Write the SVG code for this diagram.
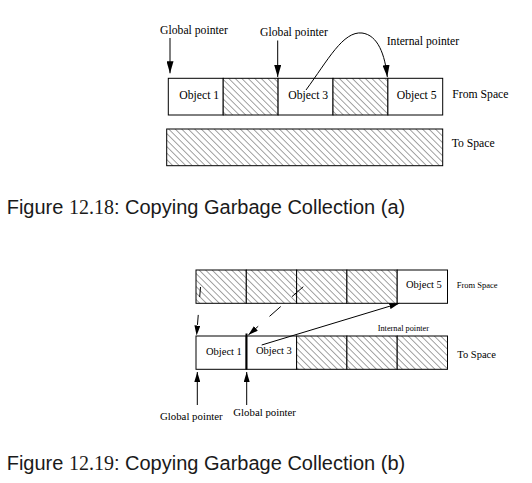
<svg xmlns="http://www.w3.org/2000/svg" width="532" height="483" viewBox="0 0 532 483">
<style>
.bx{fill:#fff;stroke:#000;stroke-width:1}
.ht{fill:url(#hatch);stroke:#000;stroke-width:1}
.t{font-family:"Liberation Serif","Times New Roman",serif;fill:#000}
.ta{font-size:11.7px}
.cap{font-family:"Liberation Sans",Arial,sans-serif;font-size:20px;fill:#1a1a1a}
.num{font-family:"Liberation Serif","Times New Roman",serif}
.ln{stroke:#000;stroke-width:1;fill:none}
</style>
<defs>
<pattern id="hatch" patternUnits="userSpaceOnUse" width="4.6" height="10" patternTransform="rotate(-45)">
<rect width="4.6" height="10" fill="#fff"/>
<line x1="0.3" y1="0" x2="0.3" y2="10" stroke="#3a3a3a" stroke-width="0.6"/>
</pattern>
<marker id="ah" viewBox="0 0 12 7" refX="12" refY="3.5" markerWidth="12" markerHeight="7" markerUnits="userSpaceOnUse" orient="auto">
<path d="M0,0 L12,3.5 L0,7 z" fill="#000"/>
</marker>
<marker id="as" viewBox="0 0 10 6" refX="10" refY="3" markerWidth="10" markerHeight="6" markerUnits="userSpaceOnUse" orient="auto">
<path d="M0,0 L10,3 L0,6 z" fill="#000"/>
</marker>
</defs>

<!-- Figure (a) -->
<g id="a-from-space">
<rect class="bx" x="168.3" y="78.3" width="54.9" height="36.7"/>
<rect class="ht" x="223.2" y="78.3" width="54.9" height="36.7"/>
<rect class="bx" x="278.1" y="78.3" width="54.9" height="36.7"/>
<rect class="ht" x="333" y="78.3" width="54.9" height="36.7"/>
<rect class="bx" x="387.9" y="78.3" width="54.8" height="36.7"/>
<text class="t ta" x="179.3" y="98.5">Object 1</text>
<text class="t ta" x="288.3" y="98.5">Object 3</text>
<text class="t ta" x="396.7" y="98.5">Object 5</text>
<text class="t ta" x="452.3" y="98">From Space</text>
</g>
<g id="a-to-space">
<rect class="ht" x="166.7" y="129" width="276" height="36.7"/>
<text class="t ta" x="451.7" y="147">To Space</text>
</g>
<g id="a-labels">
<text class="t ta" x="160" y="34">Global pointer</text>
<text class="t ta" x="260" y="36">Global pointer</text>
<text class="t ta" x="386.7" y="45">Internal pointer</text>
</g>
<g id="a-connectors">
<line class="ln" x1="170" y1="38" x2="170" y2="73.3" marker-end="url(#ah)"/>
<line class="ln" x1="277.7" y1="40.5" x2="277.7" y2="77" marker-end="url(#ah)"/>
<path class="ln" d="M306,90 C328,60 343,31 362,33 C378,35 385,55 387.3,77" marker-end="url(#ah)"/>
</g>
<text class="cap" x="6.7" y="214.3">Figure <tspan class="num">12.18</tspan>: Copying Garbage Collection (a)</text>

<!-- Figure (b) -->
<g id="b-from-space">
<rect class="ht" x="196" y="270" width="50.3" height="33.3"/>
<rect class="ht" x="246.3" y="270" width="50.3" height="33.3"/>
<rect class="ht" x="296.6" y="270" width="50.3" height="33.3"/>
<rect class="ht" x="346.9" y="270" width="50.3" height="33.3"/>
<rect class="bx" x="397.2" y="270" width="50.3" height="33.3"/>
<text class="t" font-size="10.5" x="406" y="288.3">Object 5</text>
<text class="t" font-size="8.5" x="456.7" y="288">From Space</text>
</g>
<g id="b-to-space">
<rect class="bx" x="196" y="336" width="50.3" height="33.3"/>
<rect class="bx" x="246.3" y="336" width="50.3" height="33.3"/>
<rect class="ht" x="296.6" y="336" width="50.3" height="33.3"/>
<rect class="ht" x="346.9" y="336" width="50.3" height="33.3"/>
<rect class="ht" x="397.2" y="336" width="50.3" height="33.3"/>
<line x1="246.5" y1="333.5" x2="246.5" y2="369.3" stroke="#000" stroke-width="2"/>
<text class="t" font-size="10.5" x="206" y="355">Object 1</text>
<text class="t" font-size="10.5" x="256" y="353.5">Object 3</text>
<text class="t" font-size="10.5" x="457.3" y="357.7">To Space</text>
</g>
<g id="b-labels">
<text class="t" font-size="8.3" x="377.7" y="331">Internal pointer</text>
<text class="t" font-size="10.8" x="160" y="420">Global pointer</text>
<text class="t" font-size="10.8" x="233.3" y="416">Global pointer</text>
</g>
<g id="b-connectors">
<line class="ln" x1="261.7" y1="345" x2="399.3" y2="303.3" marker-end="url(#as)"/>
<line class="ln" x1="303.3" y1="286.7" x2="248.3" y2="335" stroke-dasharray="15 15" marker-end="url(#as)"/>
<line class="ln" x1="200.5" y1="287" x2="196.6" y2="335.5" stroke-dasharray="10 18" marker-end="url(#as)"/>
<line class="ln" x1="197.3" y1="405" x2="197.3" y2="372" marker-end="url(#as)"/>
<line class="ln" x1="246.7" y1="405" x2="246.7" y2="372" marker-end="url(#as)"/>
</g>
<text class="cap" x="6.7" y="470">Figure <tspan class="num">12.19</tspan>: Copying Garbage Collection (b)</text>
</svg>
